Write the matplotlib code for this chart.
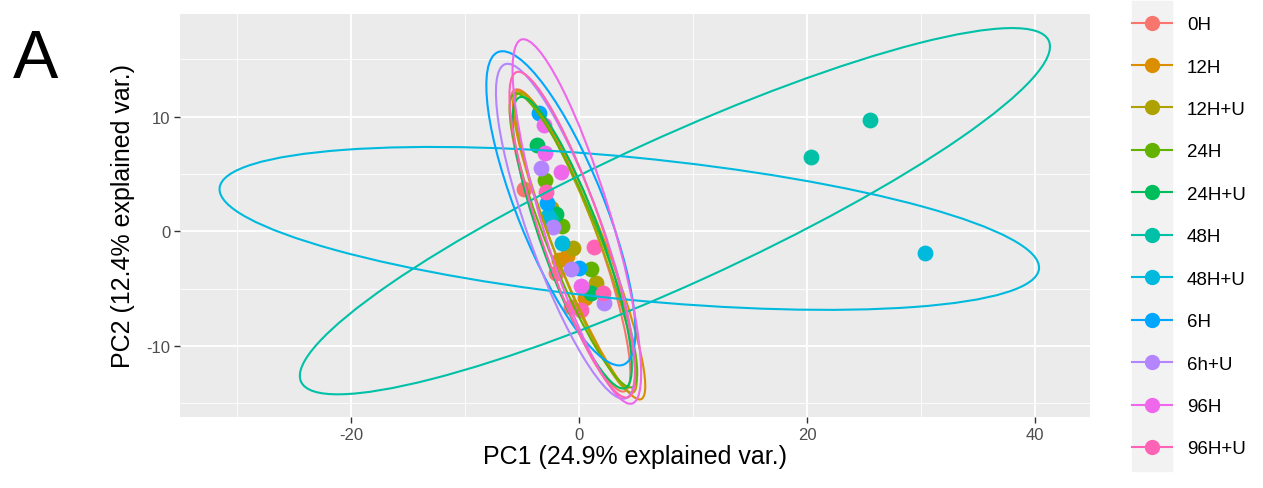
import numpy as np
import matplotlib
matplotlib.use('Agg')
import matplotlib.pyplot as plt
from matplotlib.patches import Ellipse, Rectangle
from matplotlib.lines import Line2D

plt.rcParams['font.family'] = ['Liberation Sans', 'DejaVu Sans']
plt.rcParams['axes.unicode_minus'] = False

# grupos e cores (paleta padrao do ggplot para 11 niveis)
groups = ['0H', '12H', '12H+U', '24H', '24H+U', '48H', '48H+U', '6H', '6h+U', '96H', '96H+U']
colors = ['#F8766D', '#DB8E00', '#AEA200', '#64B200', '#00BD5C', '#00C1A7',
          '#00BADE', '#00A6FF', '#B385FF', '#EF67EB', '#FF63B6']

# scores PC1 / PC2
pc1 = [[-4.8, -2.0, -0.7],
       [-1.8, -1.1, 0.5],
       [-2.5, -0.5, 1.5],
       [-3.0, 1.0, -1.5],
       [-3.7, 1.0, -2.0],
       [20.3, 25.5, -2.5],
       [30.3, -2.7, -1.5],
       [-3.5, 0.0, -2.8],
       [-3.3, -2.3, -0.7, 2.2],
       [-3.1, -3.0, -1.6, 0.2],
       [-2.9, 1.3, 2.1, 0.2]]
pc2 = [[3.7, -3.6, -6.6],
       [-2.5, -2.2, -5.8],
       [2.0, -1.5, -4.5],
       [4.5, -3.3, 0.5],
       [7.5, -5.4, 1.5],
       [6.5, 9.7, 1.0],
       [-1.9, 1.3, -1.0],
       [10.3, -3.2, 2.5],
       [5.5, 0.4, -3.3, -6.3],
       [9.3, 6.8, 5.2, -4.8],
       [3.4, -1.4, -5.4, -6.9]]

# elipses (centro, semi-eixos, angulo) estimadas da figura
ell_cx = [-0.8, 0.0, -0.3, -0.5, -0.6, 8.4, 4.4, -1.6, -1.2, -0.2, -0.6]
ell_cy = [-0.8, -1.2, -1.0, -0.8, -1.0, 1.75, 0.25, 2.0, 0.0, 0.85, -0.3]
ell_a = [14.0, 14.5, 14.0, 13.8, 13.5, 36.0, 36.1, 14.7, 15.5, 16.6, 15.0]
ell_b = [2.4, 2.2, 2.0, 2.3, 2.6, 6.4, 6.2, 3.8, 3.2, 3.0, 2.7]
ell_ang = [-70, -68, -69, -68, -70, 24.4, -5.6, -68, -70, -73, -71]

W, H = 1263, 489
fig = plt.figure(figsize=(W / 100, H / 100), dpi=100)
ax = fig.add_axes([180 / W, (H - 418) / H, (1090 - 180) / W, (418 - 15) / H])
ax.set_facecolor('#EBEBEB')
for s in ax.spines.values():
    s.set_visible(False)

# pontos
for i, g in enumerate(groups):
    ax.scatter(pc1[i], pc2[i], s=130, color=colors[i], zorder=3, linewidths=0)

# elipses por cima dos pontos
for i, g in enumerate(groups):
    e = Ellipse((ell_cx[i], ell_cy[i]), 2 * ell_a[i], 2 * ell_b[i], angle=ell_ang[i],
                fill=False, edgecolor=colors[i], lw=1.5, zorder=4)
    ax.add_patch(e)

ax.set_xlim(-35.0, 44.8)
ax.set_ylim(-16.2, 18.95)
ax.set_xticks([-20, 0, 20, 40])
ax.set_yticks([-10, 0, 10])
ax.set_xticks([-30, -10, 10, 30], minor=True)
ax.set_yticks([-15, -5, 5, 15], minor=True)
ax.grid(which='major', color='white', lw=1.3)
ax.grid(which='minor', color='white', lw=0.6)
ax.set_axisbelow(True)
ax.tick_params(which='major', length=4, width=1, color='#333333', labelcolor='#4D4D4D',
               labelsize=12, pad=3)
ax.tick_params(which='minor', length=0)

ax.set_xlabel('PC1 (24.9% explained var.)', fontsize=18, labelpad=2)
ax.set_ylabel('PC2 (12.4% explained var.)', fontsize=18, labelpad=8)

fig.text(13 / W, 1 - 78 / H, 'A', fontsize=49, ha='left', va='baseline')

# legenda
fig.patches.append(Rectangle((1132 / W, 1 - 472 / H), 40 / W, 470 / H,
                             transform=fig.transFigure, color='#F2F2F2', zorder=0))
handles = [Line2D([0], [0], color=c, lw=1.5, marker='o', markersize=10) for c in colors]
fig.legend(handles, groups, loc='upper left', bbox_to_anchor=(1132 / W, 1 - 17 / H),
           frameon=False, fontsize=13.5, handlelength=2.13, handletextpad=0.8,
           labelspacing=1.35, borderpad=0, borderaxespad=0)

plt.savefig('out.png', dpi=100)
plt.close()
